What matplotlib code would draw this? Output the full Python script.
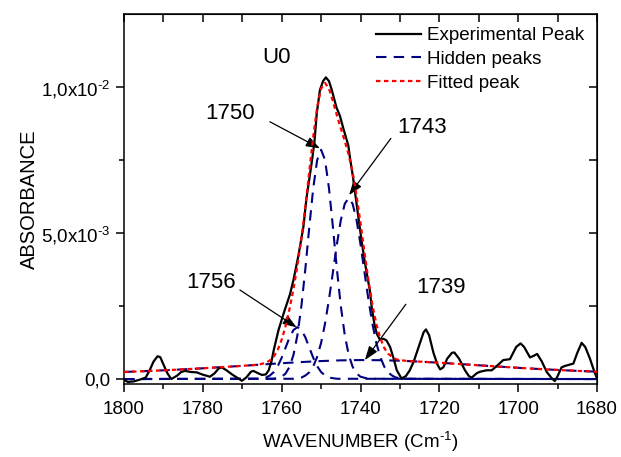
import matplotlib
matplotlib.use("Agg")
import matplotlib.pyplot as plt
from matplotlib.ticker import MultipleLocator, FixedLocator

plt.rcParams['font.family'] = ['Liberation Sans', 'DejaVu Sans']
plt.rcParams['mathtext.fontset'] = 'custom'
plt.rcParams['mathtext.rm'] = 'Liberation Sans'

# experimental spectrum (wavenumber, absorbance)
exp_x = [1800, 1799, 1797.5, 1796, 1794.5, 1793.5, 1792.5, 1791.5, 1790.8, 1790, 1789, 1788,
         1786.5, 1785.5, 1784.5, 1783, 1781.6, 1780, 1778.2, 1777, 1776, 1775.2, 1774, 1772.5,
         1771, 1770.1, 1769, 1767.8, 1767.2, 1766, 1765, 1764, 1763.3, 1762.6, 1762, 1760.8,
         1759.5, 1757.9, 1757, 1755.8, 1754.5, 1753.7, 1752.4, 1751.7, 1751.1, 1750.3, 1749.5,
         1748.8, 1748, 1747.3, 1746.1, 1745.2, 1744.4, 1743.1, 1742.7, 1741.9, 1741.4, 1740.6,
         1739.8, 1738.9, 1737.6, 1737.2, 1736.5, 1735.9, 1735.1, 1734.2, 1733.4, 1732.5, 1731.6,
         1730.8, 1729.6, 1728.5, 1727.5, 1726.5, 1725, 1724, 1723.4, 1722.6, 1721.5, 1720.5,
         1719.8, 1719, 1718, 1716.8, 1716.2, 1715, 1713.5, 1712.5, 1711.8, 1710.5, 1709.7, 1708,
         1706.7, 1705, 1703.8, 1702.1, 1700.5, 1699.4, 1698.5, 1697, 1696, 1695.2, 1694, 1692.8,
         1691.5, 1690.7, 1690, 1689, 1688.1, 1686.8, 1686, 1685, 1683.9, 1683, 1681.8, 1680.8, 1680]
exp_y = [-0.00003, -0.0001, -0.00008, -0.00002, 0.00005, 0.0003, 0.0006, 0.00078, 0.00075, 0.0005,
         0.0002, 0.0, 0.00012, 0.00024, 0.00028, 0.00024, 0.00023, 0.00015, 0.00008, 0.0002, 0.00036,
         0.0004, 0.0003, 0.00015, 0.00002, -0.00006, 0.00005, 0.00025, 0.00028, 0.0002, 0.00014,
         0.00016, 0.0003, 0.0006, 0.001, 0.00168, 0.00225, 0.0029, 0.0034, 0.0042, 0.0052, 0.0062,
         0.0074, 0.0081, 0.0091, 0.0099, 0.0102, 0.01033, 0.0102, 0.0099, 0.0093, 0.0090, 0.0086,
         0.0080, 0.0076, 0.0069, 0.0064, 0.0056, 0.0048, 0.0040, 0.0030, 0.0025, 0.0019, 0.00156,
         0.00135, 0.00138, 0.00132, 0.0011, 0.0007, 0.0003, 0.00002, 0.0001, 0.0003, 0.0006, 0.0012,
         0.0016, 0.0017, 0.0015, 0.0009, 0.0005, 0.00033, 0.0004, 0.0007, 0.0009, 0.00091, 0.0007,
         0.0003, 0.0001, 0.00005, 0.0002, 0.00025, 0.0003, 0.0003, 0.0005, 0.00065, 0.00068, 0.0011,
         0.00122, 0.0011, 0.00074, 0.0008, 0.00086, 0.0006, 0.00025, 0.00003, -0.00007, 0.0001,
         0.0004, 0.00045, 0.0005, 0.00053, 0.0009, 0.00124, 0.0011, 0.0007, 0.0003, 0.00002]

# hidden peak 1756
p1756_x = [1800, 1766, 1764, 1763, 1762, 1761, 1760, 1759, 1758, 1757, 1756, 1755, 1754, 1753,
           1752, 1751, 1750, 1749, 1748, 1746, 1680]
p1756_y = [0, 0.00001, 0.00005, 0.00012, 0.00024, 0.00044, 0.00073, 0.00108, 0.00143, 0.00168,
           0.00178, 0.00168, 0.00143, 0.00108, 0.00073, 0.00044, 0.00024, 0.00012, 0.00005,
           0.00001, 0]

# hidden peak 1750
p1750_x = [1800, 1762, 1760, 1759, 1758, 1757, 1756, 1755, 1754, 1753, 1752, 1751, 1750, 1749,
           1748, 1747, 1746, 1745, 1744, 1743, 1742, 1741, 1740, 1738, 1680]
p1750_y = [0, 0.00001, 0.00008, 0.00019, 0.00042, 0.00083, 0.00151, 0.0025, 0.00377, 0.0052,
           0.00653, 0.0075, 0.00785, 0.0075, 0.00653, 0.0052, 0.00377, 0.0025, 0.00151, 0.00083,
           0.00042, 0.00019, 0.00008, 0.00001, 0]

# hidden peak 1743
p1743_x = [1800, 1757, 1755, 1754, 1753, 1752, 1751, 1750, 1749, 1748, 1747, 1746, 1745, 1744,
           1743, 1742, 1741, 1740, 1739, 1738, 1737, 1736, 1735, 1734, 1733, 1732, 1731, 1729, 1680]
p1743_y = [0, 0.00001, 0.00005, 0.00012, 0.00023, 0.00043, 0.00076, 0.00124, 0.0019, 0.00273,
           0.00366, 0.00461, 0.00544, 0.006, 0.0062, 0.006, 0.00544, 0.00461, 0.00366, 0.00273,
           0.0019, 0.00124, 0.00076, 0.00043, 0.00023, 0.00012, 0.00005, 0.00001, 0]

# hidden peak 1739 (broad)
p1739_x = [1800, 1795, 1790, 1785, 1780, 1775, 1770, 1765, 1760, 1755, 1750, 1745, 1740, 1739,
           1735, 1730, 1725, 1720, 1715, 1710, 1705, 1700, 1695, 1690, 1685, 1680]
p1739_y = [0.000242, 0.000269, 0.000299, 0.000332, 0.000369, 0.00041, 0.000453, 0.000498,
           0.000542, 0.000582, 0.000616, 0.00064, 0.00065, 0.00065, 0.000645, 0.000627, 0.000597,
           0.000559, 0.000516, 0.000471, 0.000427, 0.000385, 0.000346, 0.000311, 0.00028, 0.000252]

# fitted envelope
fit_x = [1800, 1795, 1790, 1785, 1780, 1775, 1770, 1766, 1764, 1763, 1762, 1761, 1760, 1759,
         1758, 1757, 1756, 1755, 1754, 1753, 1752, 1751, 1750, 1749, 1748, 1747, 1746, 1745,
         1744, 1743, 1742, 1741, 1740, 1739, 1738, 1737, 1736, 1735, 1734, 1733, 1732, 1731,
         1730, 1728, 1725, 1720, 1715, 1710, 1705, 1700, 1695, 1690, 1685, 1680]
fit_y = [0.000242, 0.000269, 0.000299, 0.000332, 0.000369, 0.00041, 0.000453, 0.000489,
         0.000557, 0.000636, 0.000774, 0.001, 0.00135, 0.00182, 0.00241, 0.00309, 0.0039,
         0.00481, 0.00591, 0.00711, 0.00829, 0.00931, 0.00995, 0.01014, 0.00994, 0.00951,
         0.00903, 0.00858, 0.00815, 0.00768, 0.00707, 0.00628, 0.00534, 0.00434, 0.00339,
         0.00255, 0.00189, 0.00141, 0.00107, 0.00087, 0.00076, 0.00068, 0.00065, 0.000616,
         0.000597, 0.000559, 0.000516, 0.000471, 0.000427, 0.000385, 0.000346, 0.000311,
         0.00028, 0.000252]

hidden = [(p1756_x, p1756_y), (p1750_x, p1750_y), (p1743_x, p1743_y), (p1739_x, p1739_y)]

# peak labels: text, text centre, arrow start, arrow tip
labels = [("1750", (1773.2, 0.00908), (1763.0, 0.00881), (1750.3, 0.0079)),
          ("1743", (1724.5, 0.00861), (1732.3, 0.00824), (1742.9, 0.0063)),
          ("1756", (1777.9, 0.00329), (1770.6, 0.00305), (1756.2, 0.00177)),
          ("1739", (1719.7, 0.00315), (1728.5, 0.00256), (1738.9, 0.00065))]

fig = plt.figure(figsize=(6.21, 4.57), dpi=100)
ax = fig.add_axes([0.1997, 0.1597, 0.7617, 0.8097])

navy = '#000080'
ax.plot(exp_x, exp_y, color='black', lw=1.6, label='Experimental Peak', zorder=3)
for i, (hx, hy) in enumerate(hidden):
    ax.plot(hx, hy, color=navy, lw=1.5, dashes=(5, 3.5),
            label='Hidden peaks' if i == 0 else None, zorder=2)
ax.plot(fit_x, fit_y, color='red', lw=1.6, dashes=(2, 1.6), label='Fitted peak', zorder=4)

ax.set_xlim(1800, 1680)
ax.set_ylim(-0.00017, 0.0125)

ax.xaxis.set_major_locator(MultipleLocator(20))
ax.xaxis.set_minor_locator(MultipleLocator(10))
ax.yaxis.set_major_locator(FixedLocator([0, 0.005, 0.01]))
ax.yaxis.set_minor_locator(FixedLocator([0.0025, 0.0075]))
ax.set_yticklabels(['0,0', '5,0x10$^{\\mathregular{\u20103}}$', '1,0x10$^{\\mathregular{\u20102}}$'])
ax.tick_params(which='major', direction='out', length=6, width=1.1, labelsize=13.5)
ax.tick_params(which='minor', direction='out', length=3.5, width=1.1)
ax.tick_params(axis='x', pad=6)
for s in ax.spines.values():
    s.set_linewidth(1.1)

top = ax.secondary_xaxis('top')
top.xaxis.set_major_locator(MultipleLocator(20))
top.xaxis.set_minor_locator(MultipleLocator(10))
top.tick_params(which='both', direction='in', labeltop=False, length=6, width=1.1)
right = ax.secondary_yaxis('right')
right.yaxis.set_major_locator(FixedLocator([0, 0.005, 0.01]))
right.yaxis.set_minor_locator(FixedLocator([0.0025, 0.0075]))
right.tick_params(which='both', direction='in', labelright=False, length=6, width=1.1)

ax.set_xlabel('WAVENUMBER (Cm$^{\\mathregular{\u20101}}$)', fontsize=13.5, labelpad=8)
ax.set_ylabel('ABSORBANCE', fontsize=14.5, labelpad=2)

ax.text(1761.4, 0.0110, 'U0', fontsize=16, ha='center', va='center')
for txt, pos, start, tip in labels:
    ax.text(pos[0], pos[1], txt, fontsize=16, ha='center', va='center')
    ax.annotate('', xy=tip, xytext=start,
                arrowprops=dict(arrowstyle='-|>,head_length=0.7,head_width=0.25',
                                color='black', lw=0.9, mutation_scale=12,
                                shrinkA=0, shrinkB=0))

ax.legend(loc='upper right', bbox_to_anchor=(1.0, 1.0), frameon=False, fontsize=13.5,
          handlelength=2.4, handletextpad=0.3, labelspacing=0.35, borderaxespad=0.3)

fig.savefig('out.png', dpi=100)
